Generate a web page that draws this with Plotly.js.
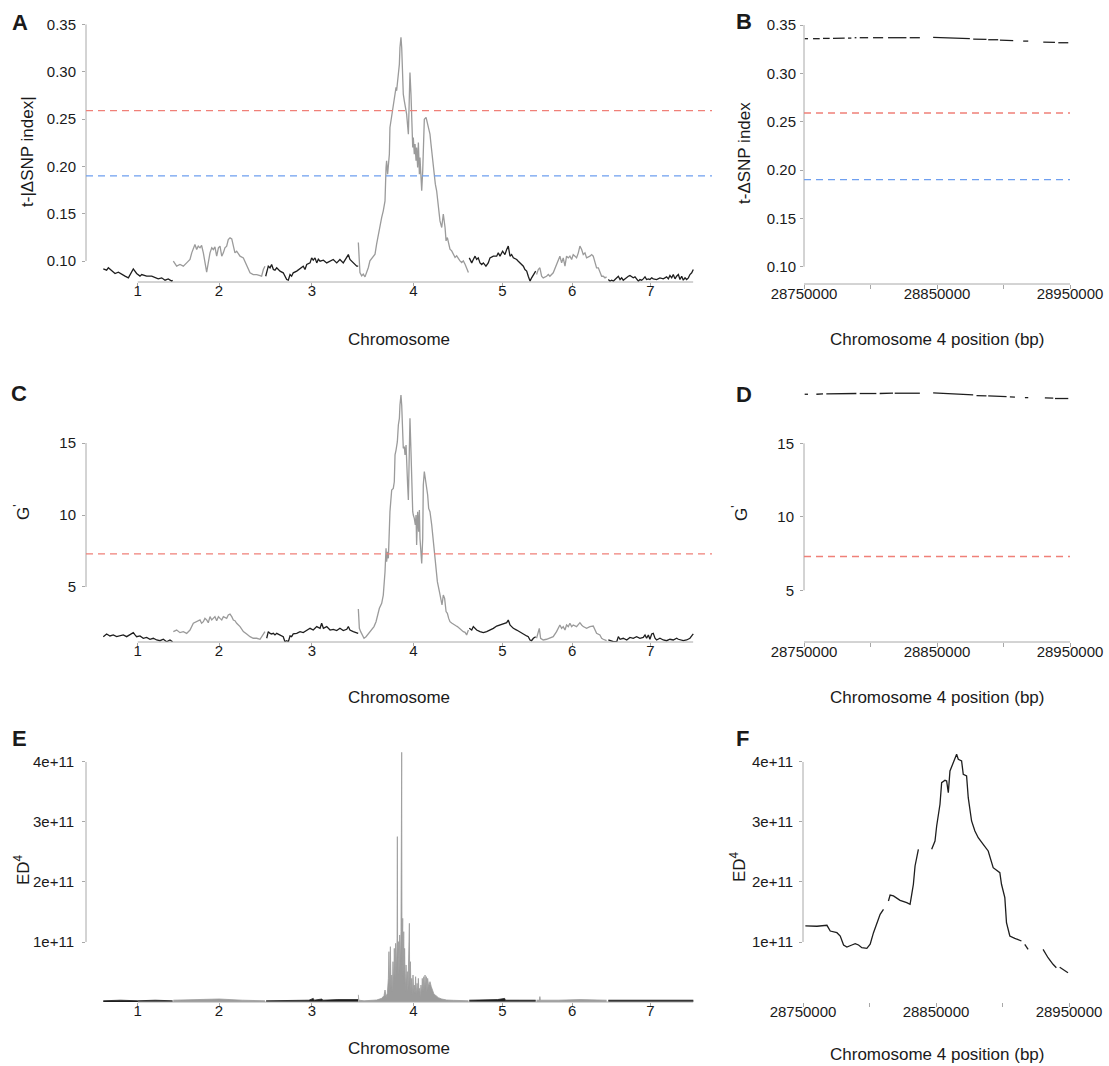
<!DOCTYPE html>
<html><head><meta charset="utf-8">
<script src="https://cdn.plot.ly/plotly-3.0.1.min.js"></script>
<style>html,body{margin:0;padding:0;background:#fff}#chart{width:1109px;height:1066px}</style>
</head><body><div id="chart"></div>
<script>
// ---------------- data ----------------
const chromosomes = ["1","2","3","4","5","6","7"];
const chromLengthMb = [48, 64, 64, 76, 47, 49, 59];

const tSnpThreshold99 = 0.259;
const tSnpThreshold95 = 0.19;
const gPrimeThreshold = 7.3;

// Panel A: t-|ΔSNP index| per chromosome (position within chromosome, Mb)
const tSnpPos = [
 [0.2,2.5,3.7,6.0,8.3,10.6,12.9,15.2,17.5,19.8,20.9,23.2,25.5,26.7,30.1,33.6,35.9,38.1,40.5,42.8,45.0,47.4,48.0],
 [0.5,2.8,5.1,7.4,9.7,12.0,13.2,14.3,15.4,16.6,17.7,18.9,20.0,21.2,22.3,23.5,24.6,25.8,27.0,28.1,29.2,30.4,31.6,32.7,33.9,35.0,36.1,37.3,38.4,39.6,40.8,41.9,43.0,44.2,46.5,48.8,51.1,53.4,55.6,58.0,60.3,61.4,62.6,63.7],
 [0.2,0.9,2.0,3.2,4.3,5.5,6.6,7.8,10.1,12.3,14.7,15.8,17.0,18.1,19.2,21.6,23.9,26.1,27.3,28.5,30.8,31.9,33.0,34.2,35.4,36.5,37.7,40.0,42.3,44.6,46.8,49.2,51.4,53.7,56.1,57.2,58.3,60.6,61.8,63.0,64.0],
 [0.1,1.2,2.4,3.5,4.7,5.8,7.0,8.1,9.3,10.4,11.6,12.7,13.9,15.0,16.2,17.3,18.5,19.2,19.6,20.3,20.8,21.5,21.9,23.1,24.2,25.4,26.1,26.5,27.7,28.4,28.8,29.5,30.0,30.4,31.1,31.8,32.3,33.4,34.6,35.3,35.7,36.4,36.9,37.6,38.0,38.7,39.2,39.9,40.3,41.0,41.5,42.2,42.6,43.3,43.8,44.5,44.9,45.6,46.8,47.7,48.4,49.5,50.2,51.4,52.3,53.2,54.1,55.3,56.4,57.6,58.7,59.9,60.6,61.5,62.6,63.3,64.5,65.6,66.8,67.9,69.1,70.2,71.4,72.5,73.7,74.8,76.0],
 [0.6,2.3,3.4,4.6,5.7,6.8,8.0,9.2,10.3,12.1,13.7,14.9,17.2,19.5,20.6,21.8,23.6,25.2,26.4,27.5,28.7,29.8,31.0,33.3,34.4,35.6,36.7,37.9,39.0,40.2,41.3,42.5,43.6,44.8,46.4],
 [0.0,1.2,2.3,3.5,4.6,6.9,8.1,9.2,11.5,13.8,16.1,17.3,18.4,19.6,20.7,21.9,23.0,24.2,25.3,26.5,27.6,28.8,29.9,31.1,32.2,33.4,34.5,36.8,38.0,39.1,40.3,41.4,42.6,43.7,44.9,46.0,47.2,48.3],
 [0.5,1.7,2.8,4.0,5.1,6.3,7.4,8.6,9.7,10.8,12.0,13.2,14.3,15.4,16.6,17.7,18.9,20.0,21.2,22.3,23.5,24.6,25.8,26.9,28.1,29.2,30.4,31.5,33.8,36.1,38.4,40.7,41.9,43.0,44.2,45.3,46.5,47.6,48.8,49.9,51.1,52.2,53.4,54.5,55.7,56.8,58.0,59.1]
];
const tSnpVal = [
 [0.0917,0.0903,0.0928,0.0893,0.0868,0.0882,0.0857,0.0840,0.0822,0.0882,0.0917,0.0868,0.0840,0.0857,0.0840,0.0840,0.0822,0.0811,0.0822,0.0797,0.0811,0.0787,0.0797],
 [0.0998,0.0945,0.0963,0.0945,0.0980,0.1016,0.1086,0.1139,0.1174,0.1121,0.1157,0.1139,0.1164,0.1086,0.0980,0.0882,0.0980,0.1086,0.1139,0.1121,0.1150,0.1051,0.1139,0.1157,0.1051,0.1086,0.1139,0.1157,0.1227,0.1245,0.1234,0.1157,0.1086,0.1104,0.1051,0.1033,0.0945,0.0875,0.0857,0.0857,0.0846,0.0839,0.0910,0.0945],
 [0.0839,0.0893,0.0945,0.0928,0.0963,0.0910,0.0903,0.0928,0.0893,0.0875,0.0804,0.0797,0.0857,0.0839,0.0875,0.0893,0.0917,0.0945,0.0910,0.0963,0.0980,0.1033,0.1009,0.1033,0.0980,0.1019,0.0998,0.1009,0.0980,0.0998,0.1016,0.0980,0.1016,0.0980,0.1033,0.1068,0.1016,0.0980,0.0963,0.0945,0.0945],
 [0.1195,0.0878,0.0843,0.0861,0.0832,0.0878,0.0931,0.1001,0.1030,0.1044,0.1072,0.1178,0.1283,0.1389,0.1460,0.1530,0.1636,0.1988,0.2059,0.1918,0.2023,0.2129,0.2411,0.2534,0.2623,0.2763,0.2834,0.2799,0.2940,0.3081,0.3257,0.3363,0.3257,0.3010,0.2763,0.2693,0.2658,0.2552,0.2341,0.2763,0.2993,0.2763,0.2552,0.2200,0.2305,0.2129,0.2235,0.2059,0.2200,0.1988,0.2253,0.1918,0.2094,0.1777,0.1742,0.1953,0.2305,0.2499,0.2517,0.2446,0.2411,0.2341,0.2235,0.2059,0.1918,0.1812,0.1742,0.1565,0.1424,0.1354,0.1495,0.1354,0.1213,0.1248,0.1178,0.1125,0.1107,0.1072,0.1037,0.1054,0.1019,0.1001,0.0984,0.1001,0.0966,0.0931,0.0878],
 [0.1033,0.0980,0.1016,0.1051,0.1016,0.1033,0.0980,0.0963,0.0980,0.0945,0.0980,0.1033,0.1051,0.1051,0.1086,0.1051,0.1104,0.1068,0.1121,0.1157,0.1051,0.1068,0.1033,0.1016,0.0998,0.0980,0.0963,0.0945,0.0910,0.0893,0.0839,0.0787,0.0822,0.0857,0.0893],
 [0.0857,0.0910,0.0928,0.0839,0.0822,0.0839,0.0857,0.0839,0.0875,0.0963,0.1051,0.0980,0.1033,0.0945,0.1051,0.1033,0.1051,0.1016,0.1068,0.1051,0.1033,0.1086,0.1157,0.1121,0.1068,0.1086,0.1033,0.1051,0.1068,0.1051,0.0980,0.0928,0.0928,0.0875,0.0839,0.0839,0.0822,0.0832],
 [0.0804,0.0787,0.0797,0.0787,0.0804,0.0822,0.0839,0.0804,0.0822,0.0797,0.0811,0.0832,0.0839,0.0846,0.0832,0.0822,0.0832,0.0811,0.0787,0.0804,0.0797,0.0811,0.0832,0.0804,0.0811,0.0804,0.0822,0.0811,0.0804,0.0822,0.0811,0.0832,0.0811,0.0846,0.0822,0.0857,0.0811,0.0839,0.0857,0.0804,0.0839,0.0797,0.0822,0.0804,0.0822,0.0857,0.0875,0.0910]
];

// Panel C: G' per chromosome
const gPrimePos = [
 [0.2,2.5,4.8,7.1,9.4,11.7,14.0,16.3,18.6,20.9,22.1,23.2,25.5,27.8,30.1,32.4,34.7,37.0,39.3,41.6,43.9,46.2,48.0],
 [0.5,2.8,5.1,7.4,9.7,12.0,14.3,16.6,18.9,20.0,21.2,22.3,23.5,24.6,25.8,27.0,28.1,29.2,30.4,31.6,32.7,33.9,35.0,37.3,38.4,39.6,40.8,41.9,43.0,44.2,46.5,48.8,51.1,53.4,55.6,58.0,60.3,61.4,62.6,63.7],
 [0.9,2.0,3.2,4.3,5.5,6.6,7.8,10.1,12.3,13.5,14.7,15.8,17.0,18.1,19.2,21.6,23.9,26.1,28.5,30.8,33.0,35.4,37.7,38.8,40.0,42.3,44.6,46.8,49.2,51.4,53.7,56.1,57.2,58.3,60.6,63.0,64.0],
 [0.1,0.8,1.7,3.1,4.0,5.4,6.3,7.7,8.6,10.0,10.9,12.3,13.2,14.6,16.2,17.3,18.5,19.2,19.6,20.3,20.8,21.5,21.9,23.1,24.2,24.9,25.4,26.1,27.0,27.7,28.4,28.8,29.5,30.0,30.7,31.1,31.8,32.3,33.0,33.4,34.1,34.6,35.3,35.7,36.4,36.9,37.6,38.0,38.7,39.4,39.9,40.3,41.0,41.7,42.2,42.6,43.3,43.8,44.5,44.9,45.6,46.3,47.2,47.9,48.6,49.5,50.7,51.8,53.0,53.7,54.6,56.0,56.9,57.8,58.7,59.6,60.6,61.5,62.4,63.3,64.7,66.1,67.4,68.4,69.7,71.4,72.5,73.7,74.8,76.0],
 [0.6,2.3,3.4,5.7,8.0,10.3,12.6,14.9,17.2,19.5,21.8,24.1,26.4,27.5,28.7,29.8,31.0,33.3,35.6,37.9,40.2,41.3,42.5,43.6,44.8,46.4],
 [0.0,1.2,1.9,2.8,4.6,6.9,9.2,11.5,13.8,16.1,17.3,18.4,19.6,20.7,21.9,23.0,24.2,25.3,27.6,28.8,29.9,31.1,32.2,34.5,36.8,39.1,40.3,41.4,43.7,44.9,46.0,48.3],
 [0.5,1.7,4.0,6.3,7.4,8.6,10.8,13.2,15.4,17.7,20.0,22.3,24.6,25.8,26.9,28.1,29.2,30.4,31.5,32.7,33.8,36.1,38.4,40.7,43.0,45.3,47.6,48.8,49.9,52.2,54.5,56.8,58.0,59.1]
];
const gPrimeVal = [
 [1.55,1.74,1.60,1.67,1.55,1.60,1.67,1.55,1.67,1.83,1.67,1.55,1.60,1.44,1.50,1.37,1.44,1.32,1.27,1.37,1.20,1.32,1.20],
 [1.90,2.01,1.83,1.90,1.78,2.01,2.48,2.59,2.71,2.48,2.59,2.82,2.71,2.52,2.94,2.71,2.82,2.94,2.66,2.94,2.82,2.71,2.94,2.82,3.06,3.12,2.94,2.71,2.66,2.48,2.25,1.90,1.74,1.55,1.44,1.44,1.37,1.55,1.78,1.90],
 [1.44,1.90,1.78,1.74,1.78,1.67,1.78,1.67,1.55,1.20,1.27,1.20,1.60,1.55,1.74,1.78,1.90,1.83,2.01,2.13,2.01,2.25,2.13,2.48,2.13,2.25,2.01,2.06,1.97,2.13,1.97,2.06,2.25,2.01,1.90,1.78,1.78],
 [3.47,2.13,1.90,1.55,1.44,1.55,1.67,1.90,2.01,2.13,2.25,2.59,3.06,3.52,3.87,4.44,6.06,7.69,6.76,7.45,6.99,8.84,10.23,11.74,11.85,12.31,14.17,14.51,15.09,16.25,16.71,17.64,18.33,17.64,15.32,14.63,14.75,14.17,14.86,13.24,12.08,11.04,15.56,16.71,14.40,12.08,10.23,10.00,9.77,9.31,10.00,7.92,10.23,8.84,10.35,8.38,7.45,6.64,8.38,12.08,13.01,12.55,11.62,11.39,10.46,10.23,9.31,8.15,7.22,6.30,5.37,4.68,4.21,3.75,4.44,4.21,3.29,3.17,2.82,2.59,2.48,2.36,2.31,2.25,2.13,1.94,1.90,1.85,1.67,2.01],
 [2.13,2.01,2.25,2.01,1.90,1.83,1.90,2.01,2.13,2.29,2.36,2.43,2.52,2.71,2.36,2.25,2.13,2.01,1.90,1.74,1.60,1.55,1.32,1.27,1.44,1.55],
 [1.44,1.78,2.13,1.44,1.32,1.37,1.44,1.55,1.90,2.36,2.13,2.25,2.01,2.36,2.25,2.48,2.25,2.36,2.25,2.36,2.52,2.36,2.25,2.13,2.25,2.29,2.06,1.78,1.67,1.44,1.37,1.27],
 [1.32,1.27,1.20,1.20,1.55,1.37,1.44,1.32,1.50,1.44,1.55,1.44,1.50,1.67,1.44,1.67,1.37,1.74,1.78,1.44,1.32,1.44,1.32,1.27,1.37,1.32,1.44,1.37,1.32,1.27,1.32,1.44,1.60,1.74]
];

// Panel E: ED^4 per chromosome
const ed4Pos = [
 [0.2,12,24,36,48],
 [0.5,16,32,48,63.7],
 [0.5,15,30,33,33.5,39,39.5,50,64],
 [0.1,0.4,4,8.1,12.7,16.2,17.8,18.5,19.2,20.1,20.8,21.2,21.7,22.2,22.6,23.1,23.5,24.0,24.5,24.9,25.4,25.8,26.3,26.8,27.0,27.2,27.7,28.1,28.6,29.1,29.5,30.0,30.2,30.7,30.9,31.4,31.8,32.0,32.5,33.0,33.4,33.9,34.3,34.8,35.3,35.5,36.0,36.4,36.9,37.3,37.8,38.3,38.7,39.2,39.6,40.1,40.6,41.0,41.5,41.9,42.4,42.8,43.3,43.8,44.2,44.7,45.2,45.6,46.1,46.5,47.0,47.4,47.9,48.6,49.5,50.4,51.4,52.3,53.7,55.3,57.6,61.0,65.6,67.9,76.0],
 [0.6,10,20,25,25.5,35,46.4],
 [0.0,2.0,2.3,2.6,15,30,48.3],
 [0.5,10,20,30,40,50,59.1]
];
const ed4Val = [
 [0.02e11,0.03e11,0.02e11,0.03e11,0.02e11],
 [0.03e11,0.04e11,0.05e11,0.03e11,0.02e11],
 [0.02e11,0.03e11,0.03e11,0.06e11,0.03e11,0.05e11,0.03e11,0.04e11,0.04e11],
 [0.12e11,0.03e11,0.02e11,0.022e11,0.033e11,0.061e11,0.106e11,0.2e11,0.089e11,0.144e11,0.394e11,0.839e11,0.172e11,0.922e11,0.228e11,0.45e11,0.172e11,0.672e11,0.283e11,0.894e11,0.394e11,0.978e11,0.506e11,1.061e11,2.756e11,0.728e11,1.006e11,0.45e11,1.117e11,0.672e11,1.172e11,4.161e11,0.617e11,1.394e11,0.394e11,1.172e11,0.283e11,0.894e11,0.172e11,0.617e11,0.283e11,0.506e11,0.172e11,0.728e11,1.311e11,0.283e11,0.672e11,0.172e11,0.394e11,0.117e11,0.45e11,0.172e11,0.283e11,0.144e11,0.422e11,0.117e11,0.311e11,0.144e11,0.394e11,0.172e11,0.228e11,0.089e11,0.283e11,0.144e11,0.394e11,0.172e11,0.422e11,0.2e11,0.45e11,0.228e11,0.422e11,0.172e11,0.394e11,0.256e11,0.339e11,0.256e11,0.172e11,0.128e11,0.106e11,0.072e11,0.05e11,0.033e11,0.028e11,0.028e11,0.02e11],
 [0.03e11,0.03e11,0.04e11,0.06e11,0.03e11,0.03e11,0.03e11],
 [0.03e11,0.03e11,0.09e11,0.03e11,0.03e11,0.04e11,0.03e11],
 [0.03e11,0.03e11,0.04e11,0.03e11,0.03e11,0.03e11,0.03e11]
];

// Panel B: t-ΔSNP index, chromosome 4 region (bp); null = gap
const regionPosB = [28750500,28753000,null,28756800,28761800,null,28764300,28769300,null,28771800,28780600,null,28783100,28785600,null,28788100,28789400,null,28791900,28798200,null,28801900,28809500,null,28813200,28827000,null,28829500,28837100,null,28847100,28862200,28874700,null,28877200,28887200,null,28888500,28896000,null,28897300,28907300,null,28914800,28918600,null,28929900,28938700,null,28941200,28948700];
const regionValB = [0.3359,0.3359,null,0.3359,0.3359,null,0.3362,0.3362,null,0.3362,0.3365,null,0.3365,0.3365,null,0.3369,0.3369,null,0.3369,0.3369,null,0.3369,0.3369,null,0.3369,0.3369,null,0.3369,0.3369,null,0.3372,0.3369,0.3359,null,0.3355,0.3352,null,0.3348,0.3348,null,0.3345,0.3338,null,0.3334,0.3334,null,0.3324,0.3321,null,0.3317,0.3317];

// Panel D: G', chromosome 4 region
const regionPosD = [28750500,28753000,null,28759300,28764300,null,28766800,28789400,null,28791900,28804400,null,28806900,28816900,null,28818200,28837100,null,28847100,28854600,28877200,null,28879700,28887200,null,28888500,28902300,null,28904800,28908600,null,28916100,28918600,null,28931100,28937400,null,28938700,28948700];
const regionValD = [18.34,18.34,null,18.34,18.36,null,18.36,18.39,null,18.39,18.39,null,18.39,18.41,null,18.41,18.41,null,18.43,18.41,18.30,null,18.25,18.23,null,18.23,18.18,null,18.16,18.14,null,18.11,18.11,null,18.09,18.07,null,18.05,18.05];

// Panel F: ED^4, chromosome 4 region
const regionPosF = [28751750,28760500,28768000,28770500,28775500,28778000,28780500,28783000,28786750,28789250,28791750,28794250,28798000,28800500,28803000,28805500,28808000,28810500,null,28814250,28815500,28818000,28823000,28828000,28830500,28831750,28833000,28834250,28835500,28836750,null,28846750,28849250,28850500,28853000,28854250,28856750,28858000,28859250,28860500,28863000,28865500,28866750,28869250,28870500,28873000,28874250,28876750,28879250,28881750,28885500,28889250,28893000,28898000,28899250,28901750,28903000,28905500,28909250,28914250,null,28916750,28919250,null,28930500,28934250,28938000,28940500,null,28943000,28946750,28949250];
const regionValF = [1.267e11,1.262e11,1.278e11,1.183e11,1.155e11,1.10e11,0.95e11,0.917e11,0.95e11,0.972e11,0.95e11,0.905e11,0.895e11,0.962e11,1.155e11,1.295e11,1.462e11,1.545e11,null,1.683e11,1.783e11,1.767e11,1.695e11,1.655e11,1.628e11,1.795e11,1.962e11,2.267e11,2.433e11,2.545e11,null,2.545e11,2.683e11,2.933e11,3.295e11,3.655e11,3.695e11,3.683e11,3.488e11,3.85e11,3.988e11,4.128e11,4.045e11,4.017e11,3.795e11,3.767e11,3.405e11,3.017e11,2.85e11,2.738e11,2.628e11,2.517e11,2.238e11,2.155e11,1.962e11,1.738e11,1.322e11,1.10e11,1.062e11,1.017e11,null,0.962e11,0.878e11,null,0.878e11,0.738e11,0.628e11,0.572e11,null,0.578e11,0.517e11,0.488e11];

const regionLabelTicks = [28750000, 28850000, 28950000];
const regionMinorTicks = [28800000, 28900000];

// ---------------- derived (layout helpers) ----------------
const offsets = [];
chromLengthMb.reduce((acc, len, i) => { offsets[i] = acc; return acc + len; }, 0);
const genomeEnd = offsets[6] + chromLengthMb[6];
const mids = chromLengthMb.map((len, i) => offsets[i] + len / 2);

const W = 1109, H = 1066;
const dx = (a, b) => [a / W, b / W];
const dy = (top, bottom) => [1 - bottom / H, 1 - top / H];

const BLACK = '#1e1e1e', GRAY = '#9b9b9b', AXIS = '#a8a8a8';
const RED = '#f08078', BLUE = '#6e9ff0';
const FONT = 'Liberation Sans, Arial, sans-serif';

function genomeTraces(posArr, valArr, xa, ya, fill) {
  return chromosomes.map((c, i) => ({
    type: 'scatter', mode: 'lines', xaxis: xa, yaxis: ya,
    x: posArr[i].map(p => p + offsets[i]), y: valArr[i],
    line: { color: i % 2 === 0 ? BLACK : GRAY, width: fill ? 0.8 : 1.3 },
    fill: fill ? 'tozeroy' : 'none',
    fillcolor: i % 2 === 0 ? BLACK : GRAY,
    hoverinfo: 'skip', showlegend: false
  }));
}
function regionTrace(x, y, xa, ya) {
  return { type: 'scatter', mode: 'lines', xaxis: xa, yaxis: ya, x, y,
    connectgaps: false, line: { color: BLACK, width: 1.3 }, hoverinfo: 'skip', showlegend: false };
}

const traces = [
  ...genomeTraces(tSnpPos, tSnpVal, 'x', 'y', false),
  regionTrace(regionPosB, regionValB, 'x2', 'y2'),
  ...genomeTraces(gPrimePos, gPrimeVal, 'x3', 'y3', false),
  regionTrace(regionPosD, regionValD, 'x4', 'y4'),
  ...genomeTraces(ed4Pos, ed4Val, 'x5', 'y5', true),
  regionTrace(regionPosF, regionValF, 'x6', 'y6')
];

const axisBase = {
  showgrid: false, zeroline: false, showline: false,
  ticks: 'outside', ticklen: 3, tickwidth: 1, tickcolor: AXIS,
  tickfont: { family: FONT, size: 15, color: '#1a1a1a' }, fixedrange: true
};
const genomeX = (anchor) => ({ ...axisBase, anchor, domain: dx(86, 712), range: [-11.72, 420.0],
  tickvals: mids, ticktext: chromosomes, ticklabelstandoff: -8 });
const regionX = (anchor, a, b) => ({ ...axisBase, anchor, domain: dx(a, b),
  range: [28750000, 28950000], tickmode: 'array', tickvals: regionLabelTicks,
  ticktext: regionLabelTicks.map(String), ticklen: 4, ticklabelstandoff: -8,
  minor: { tickmode: 'array', tickvals: regionMinorTicks, ticks: 'outside', ticklen: 4, tickcolor: AXIS, showgrid: false } });
const snpY = (anchor, top, bottom, range, so) => ({ ...axisBase, anchor, domain: dy(top, bottom), range,
  tickvals: [0.10, 0.15, 0.20, 0.25, 0.30, 0.35], tickformat: '.2f', ticklabelstandoff: so });
const gY = (anchor, range) => ({ ...axisBase, anchor, domain: dy(380, 642), range,
  tickvals: [5, 10, 15], ticklabelstandoff: 3 });
const edY = (anchor, so) => ({ ...axisBase, anchor, domain: dy(745, 1002), range: [0, 4.283e11],
  tickvals: [1e11, 2e11, 3e11, 4e11], ticktext: ['1e+11', '2e+11', '3e+11', '4e+11'], ticklabelstandoff: so });

function vLine(xa, ya, y0, y1) {
  return { type: 'line', xref: xa + ' domain', yref: ya, x0: 0, x1: 0, y0, y1, line: { color: AXIS, width: 1 } };
}
function hLine(xa, ya, x0, x1, ref) {
  return { type: 'line', xref: ref, yref: ya + ' domain', x0, x1, y0: 0, y1: 0, line: { color: AXIS, width: 1 } };
}
function thresh(xa, ya, y, color) {
  return { type: 'line', xref: xa + ' domain', yref: ya, x0: 0, x1: 1, y0: y, y1: y,
    line: { color, width: 1.3, dash: '7px,5px' } };
}

const shapes = [
  vLine('x', 'y', 0.10, 0.35), hLine('x', 'y', mids[0], genomeEnd, 'x'),
  thresh('x', 'y', tSnpThreshold99, RED), thresh('x', 'y', tSnpThreshold95, BLUE),
  vLine('x2', 'y2', 0.10, 0.35), hLine('x2', 'y2', 0, 1, 'x2 domain'),
  thresh('x2', 'y2', tSnpThreshold99, RED), thresh('x2', 'y2', tSnpThreshold95, BLUE),
  vLine('x3', 'y3', 5, 15), hLine('x3', 'y3', mids[0], genomeEnd, 'x3'),
  thresh('x3', 'y3', gPrimeThreshold, RED),
  vLine('x4', 'y4', 5, 15), hLine('x4', 'y4', 0, 1, 'x4 domain'),
  thresh('x4', 'y4', gPrimeThreshold, RED),
  vLine('x5', 'y5', 1e11, 4e11), hLine('x5', 'y5', mids[0], genomeEnd, 'x5'),
  vLine('x6', 'y6', 1e11, 4e11)
];

function ann(text, px, py, size, angle, bold) {
  return { text: bold ? '<b>' + text + '</b>' : text, xref: 'paper', yref: 'paper',
    x: px / W, y: 1 - py / H, xanchor: 'center', yanchor: 'middle', showarrow: false,
    textangle: angle || 0, font: { family: FONT, size, color: '#1a1a1a' } };
}
const annotations = [
  ann('A', 20, 22, 22, 0, true), ann('B', 744, 21, 22, 0, true),
  ann('C', 19, 393, 22, 0, true), ann('D', 744, 394, 22, 0, true),
  ann('E', 19, 738, 22, 0, true), ann('F', 742, 738, 22, 0, true),
  ann('t-|ΔSNP index|', 27, 152, 17, -90), ann('t-ΔSNP index', 745, 153, 17, -90),
  ann("G<sup>'</sup>", 22, 512, 17, -90), ann("G<sup>'</sup>", 740, 513, 17, -90),
  ann('ED<sup>4</sup>', 22, 870, 17, -90), ann('ED<sup>4</sup>', 738, 867, 17, -90),
  ann('Chromosome', 399, 339, 17), ann('Chromosome 4 position (bp)', 937, 339, 17),
  ann('Chromosome', 399, 697, 17), ann('Chromosome 4 position (bp)', 937, 697, 17),
  ann('Chromosome', 399, 1048, 17), ann('Chromosome 4 position (bp)', 937, 1054, 17)
];

const layout = {
  width: W, height: H, margin: { l: 0, r: 0, t: 0, b: 0 },
  paper_bgcolor: '#fff', plot_bgcolor: 'rgba(0,0,0,0)', showlegend: false,
  font: { family: FONT },
  xaxis: genomeX('y'), yaxis: snpY('x', 15, 282, [0.0778, 0.3600], 3),
  xaxis2: regionX('y2', 804, 1070), yaxis2: snpY('x2', 15, 284, [0.0821, 0.3604], 1),
  xaxis3: genomeX('y3'), yaxis3: gY('x3', [1.18, 19.375]),
  xaxis4: regionX('y4', 804, 1070), yaxis4: gY('x4', [1.48, 19.31]),
  xaxis5: genomeX('y5'), yaxis5: edY('x5', 5),
  xaxis6: regionX('y6', 803, 1069), yaxis6: edY('x6', 3),
  shapes, annotations
};

Plotly.newPlot('chart', traces, layout, { displayModeBar: false, staticPlot: true });
</script>
</body></html>
